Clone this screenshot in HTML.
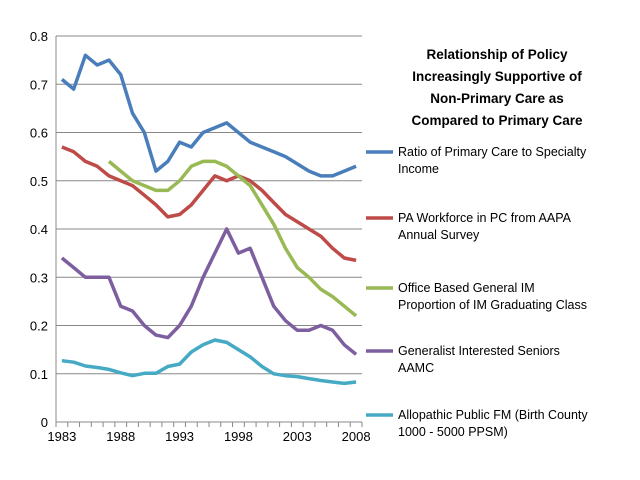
<!DOCTYPE html>
<html><head><meta charset="utf-8"><style>
body{margin:0;background:#fff;}
svg{display:block;font-family:"Liberation Sans",sans-serif;}
</style></head><body>
<svg id="c" width="640" height="480">
<g id="grid"></g><g id="axes"></g><g id="series"></g>
<g font-size="13.5" font-weight="bold" text-anchor="middle" fill="#000">
<text x="497" y="59">Relationship of  Policy</text>
<text x="497" y="81">Increasingly Supportive of</text>
<text x="497" y="103">Non-Primary Care as</text>
<text x="497" y="125">Compared to Primary Care</text>
</g>
<g id="legend" font-size="12.5" fill="#000"></g>
</svg>
<script>
const years=[1983,1984,1985,1986,1987,1988,1989,1990,1991,1992,1993,1994,1995,1996,1997,1998,1999,2000,2001,2002,2003,2004,2005,2006,2007,2008];
const ratioPC=[.71,.69,.76,.74,.75,.72,.64,.60,.52,.54,.58,.57,.60,.61,.62,.60,.58,.57,.56,.55,.535,.52,.51,.51,.52,.53];
const paWorkforce=[.57,.56,.54,.53,.51,.50,.49,.47,.45,.425,.43,.45,.48,.51,.50,.51,.50,.48,.455,.43,.415,.40,.385,.36,.34,.335];
const officeIM=[null,null,null,null,.54,.52,.50,.49,.48,.48,.50,.53,.54,.54,.53,.51,.49,.45,.41,.36,.32,.30,.275,.26,.24,.22];
const generalist=[.34,.32,.30,.30,.30,.24,.23,.20,.18,.175,.20,.24,.30,.35,.40,.35,.36,.30,.24,.21,.19,.19,.20,.19,.16,.14];
const allopathic=[.127,.124,.116,.113,.109,.102,.096,.101,.101,.115,.12,.145,.16,.17,.165,.15,.135,.115,.10,.096,.094,.09,.086,.083,.08,.083];
const yTicks=[0,0.1,0.2,0.3,0.4,0.5,0.6,0.7,0.8];
const xLabels=[1983,1988,1993,1998,2003,2008];
const seriesNames=[["Ratio of Primary Care to Specialty","Income"],["PA Workforce in PC from AAPA","Annual Survey"],["Office Based General IM","Proportion of IM Graduating Class"],["Generalist Interested Seniors","AAMC"],["Allopathic Public FM (Birth County","1000 - 5000 PPSM)"]];
const colors=["#4a7ebb","#be4b48","#98b954","#7d5fa0","#46aac5"];
const allSeries=[ratioPC,paWorkforce,officeIM,generalist,allopathic];
const NS="http://www.w3.org/2000/svg";
const L=56,R=362,T=36,B=422;
const step=(R-L)/years.length;
function xs(i){return L+step*(i+0.5);}
function ys(v){return B-(v/0.8)*(B-T);}
function mk(p,tag,a){const e=document.createElementNS(NS,tag);for(const k in a)e.setAttribute(k,a[k]);p.appendChild(e);return e;}
const grid=document.getElementById('grid'),axes=document.getElementById('axes');
yTicks.forEach(v=>{
 if(v>0){const g=mk(grid,'line',{x1:L,x2:R,y1:ys(v),y2:ys(v),stroke:'#888','stroke-width':1});
 
 }
 const t=mk(axes,'text',{x:L-8,y:ys(v)+5,'text-anchor':'end','font-size':13});
 t.textContent=String(v);
 
 
});
const ya=mk(axes,'line',{x1:L,x2:L,y1:T,y2:B,stroke:'#888'});


const xa=mk(axes,'line',{x1:L,x2:R,y1:B,y2:B,stroke:'#888'});


for(let i=0;i<=years.length;i++){mk(axes,'line',{x1:L+step*i,x2:L+step*i,y1:B,y2:B+5,stroke:'#888'});}
xLabels.forEach(y=>{const i=years.indexOf(y);
 const t=mk(axes,'text',{x:xs(i),y:B+19,'text-anchor':'middle','font-size':13});
 t.textContent=String(y);
 
 });
const sg=document.getElementById('series');
allSeries.forEach((s,k)=>{
 let d='';let pen=false;
 s.forEach((v,i)=>{if(v==null){pen=false;return;}d+=(pen?'L':'M')+xs(i).toFixed(1)+','+ys(v).toFixed(1);pen=true;});
 const p=mk(sg,'path',{d:d,fill:'none',stroke:colors[k],'stroke-width':3.5,'stroke-linejoin':'round'});
 
 
});
const lg=document.getElementById('legend');
const ly=[152,218,288,351,415];
seriesNames.forEach((n,k)=>{
 const g=mk(lg,'g',{});
 
 
 mk(g,'line',{x1:366,x2:393,y1:ly[k],y2:ly[k],stroke:colors[k],'stroke-width':3.5});
 n.forEach((line,j)=>{const t=mk(g,'text',{x:398,y:ly[k]+4+j*17});t.textContent=line;});
});
</script>
</body></html>
